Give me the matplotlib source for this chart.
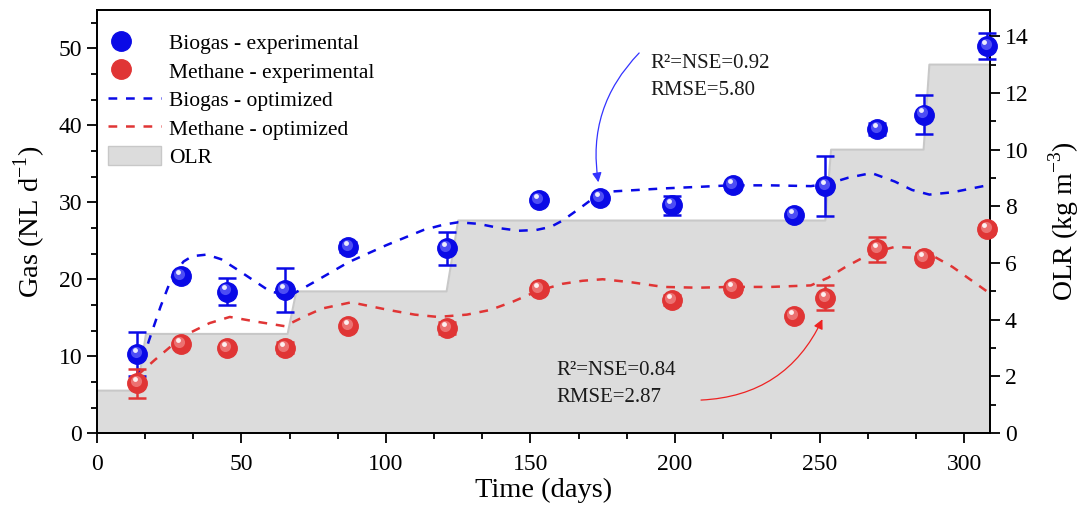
import numpy as np
import matplotlib
matplotlib.use("Agg")
import matplotlib.pyplot as plt
from matplotlib.lines import Line2D
from matplotlib.patches import Patch
from matplotlib.legend_handler import HandlerTuple
from matplotlib.transforms import offset_copy

plt.rcParams["font.family"] = ["Liberation Serif", "DejaVu Serif"]
plt.rcParams["mathtext.fontset"] = "custom"
plt.rcParams["mathtext.rm"] = "Liberation Serif"

# experimental data (days, NL/d)
bio_day = [14, 29, 45, 65, 87, 121, 153, 174, 199, 220, 241, 252, 270, 286, 308]
bio_val = [10.3, 20.4, 18.4, 18.6, 24.2, 24.0, 30.3, 30.5, 29.6, 32.2, 28.3, 32.1, 39.5, 41.4, 50.3]
bio_err = [2.9, 0.5, 1.7, 2.8, 0.6, 2.2, 0.4, 0.5, 1.2, 0.5, 0.3, 3.9, 0.8, 2.5, 1.7]

met_day = [14, 29, 45, 65, 87, 121, 153, 199, 220, 241, 252, 270, 286, 308]
met_val = [6.5, 11.6, 11.1, 11.1, 13.9, 13.7, 18.7, 17.3, 18.9, 15.2, 17.6, 23.9, 22.8, 26.5]
met_err = [1.9, 0.4, 0.4, 0.7, 0.4, 0.8, 0.4, 0.6, 0.5, 0.3, 1.6, 1.6, 0.6, 0.5]

# optimized model curves
bio_opt_day = [14, 18, 22, 26, 30, 33, 38, 43, 48, 54, 60, 67, 75, 87, 100, 113, 120, 125, 132, 140, 146, 152,
               157, 161, 167, 172, 178, 187, 196, 208, 219, 233, 247, 253, 260, 268, 276, 282, 288, 296, 308]
bio_opt_val = [7.3, 12.0, 16.4, 20.3, 22.3, 23.0, 23.2, 22.6, 21.4, 19.9, 18.4, 17.9, 19.6, 22.2, 24.4, 26.4, 27.1, 27.4,
               27.2, 26.6, 26.3, 26.4, 26.8, 27.6, 29.2, 30.6, 31.4, 31.6, 31.8, 32.0, 32.2, 32.2, 32.1, 32.4, 33.2, 33.8,
               32.7, 31.6, 31.0, 31.3, 32.2]

met_opt_day = [14, 20, 26, 32, 39, 46, 55, 65, 72, 78, 88, 101, 110, 118, 128, 136, 144, 152, 161, 168, 175,
               185, 196, 208, 219, 233, 247, 253, 259, 264, 269, 276, 282, 288, 296, 302, 308]
met_opt_val = [7.5, 9.5, 11.4, 13.0, 14.3, 15.1, 14.5, 13.9, 15.2, 16.2, 17.0, 16.0, 15.4, 15.1, 15.4, 16.0, 17.1,
               18.4, 19.4, 19.8, 20.0, 19.6, 19.0, 18.9, 19.0, 19.0, 19.2, 20.2, 21.6, 22.6, 23.5, 24.2, 24.1, 23.3,
               21.6, 20.0, 18.4]

# organic loading rate (kg m-3)
olr_day = [0, 14, 17, 66, 69, 121, 125, 252, 254, 286, 288, 309]
olr_val = [1.5, 1.5, 3.5, 3.5, 5.0, 5.0, 7.5, 7.5, 10.0, 10.0, 13.0, 13.0]

blue = "#0a0ae6"
red = "#e03535"

fig = plt.figure(figsize=(10.88, 5.2), dpi=100)
ax = fig.add_axes([0.089, 0.167, 0.821, 0.814])
ax2 = ax.twinx()
ax.set_zorder(ax2.get_zorder() + 1)
ax.patch.set_visible(False)

ax2.fill_between(olr_day, olr_val, 0, color="#dcdcdc", lw=0)
ax2.plot(olr_day, olr_val, color="#c8c8c8", lw=1.5)

ax.plot(bio_opt_day, bio_opt_val, color=blue, lw=1.8, dashes=(3.5, 3.5), zorder=2)
ax.plot(met_opt_day, met_opt_val, color=red, lw=1.8, dashes=(3.5, 3.5), zorder=2)

ax.errorbar(bio_day, bio_val, yerr=bio_err, fmt="none", ecolor=blue, elinewidth=1.8, capsize=6.5, capthick=1.8,
            zorder=3, clip_on=False)
ax.errorbar(met_day, met_val, yerr=met_err, fmt="none", ecolor=red, elinewidth=1.8, capsize=6.5, capthick=1.8,
            zorder=3, clip_on=False)


def balls(x, y, base, mid):
    ax.plot(x, y, "o", ms=14, color=base, mec=base, zorder=4, clip_on=False)
    t1 = offset_copy(ax.transData, fig=fig, x=-1.2, y=1.5, units="points")
    ax.plot(x, y, "o", ms=8, color=mid, mec="none", alpha=0.6, transform=t1, zorder=5, clip_on=False)
    t2 = offset_copy(ax.transData, fig=fig, x=-2.0, y=3.0, units="points")
    ax.plot(x, y, "o", ms=3.5, color="white", mec="none", alpha=0.9, transform=t2, zorder=6, clip_on=False)


balls(bio_day, bio_val, blue, "#7a7aff")
balls(met_day, met_val, red, "#f59a9a")

ax.set_xlim(0, 309)
ax.set_ylim(0, 55)
ax2.set_ylim(0, 14.93)
ax.set_xticks(np.arange(0, 301, 50))
ax.set_xticks(np.arange(0, 309, 50 / 3), minor=True)
ax.set_yticks(np.arange(0, 51, 10))
ax.set_yticks(np.arange(0, 55, 10 / 3), minor=True)
ax2.set_yticks(np.arange(0, 15, 2))
ax2.set_yticks(np.arange(0, 15, 1), minor=True)

for a in (ax, ax2):
    a.tick_params(which="major", direction="out", length=7, width=1.3, labelsize=17)
    a.tick_params(which="minor", direction="out", length=4, width=1.3)
    for s in a.spines.values():
        s.set_linewidth(1.3)
ax.tick_params(axis="x", pad=8)

ax.set_xlabel("Time (days)", fontsize=20.5, labelpad=2)
ax.set_ylabel("Gas (NL d$^{-1}$)", fontsize=20.5, labelpad=8)
ax2.set_ylabel("OLR (kg m$^{-3}$)", fontsize=20, labelpad=13)

ax.text(191.6, 48.0, "R²=NSE=0.92", fontsize=15, va="center", ha="left", color="#1a1a1a")
ax.text(191.6, 44.5, "RMSE=5.80", fontsize=15, va="center", ha="left", color="#1a1a1a")
ax.annotate("", xy=(173.5, 32.6), xytext=(187.6, 49.4),
            arrowprops=dict(arrowstyle="-|>", color="#3333ff", lw=0.9, mutation_scale=14,
                            connectionstyle="arc3,rad=0.25", shrinkA=0, shrinkB=0))
ax.text(159, 8.2, "R²=NSE=0.84", fontsize=15, va="center", ha="left", color="#1a1a1a")
ax.text(159, 4.6, "RMSE=2.87", fontsize=15, va="center", ha="left", color="#1a1a1a")
ax.annotate("", xy=(251, 14.8), xytext=(209, 4.3),
            arrowprops=dict(arrowstyle="-|>", color="#ee2222", lw=0.9, mutation_scale=14,
                            connectionstyle="arc3,rad=0.3", shrinkA=0, shrinkB=0))

h_bio = (Line2D([], [], ls="none", marker="o", ms=14, color=blue),
         Line2D([], [], ls="none", marker="o", ms=4, color="white", alpha=0.8))
h_met = (Line2D([], [], ls="none", marker="o", ms=14, color=red),
         Line2D([], [], ls="none", marker="o", ms=4, color="white", alpha=0.8))
h_bopt = Line2D([], [], color=blue, lw=1.8, dashes=(3.5, 3.5))
h_mopt = Line2D([], [], color=red, lw=1.8, dashes=(3.5, 3.5))
h_olr = Patch(facecolor="#dcdcdc", edgecolor="#c8c8c8")
ax.legend([h_bio, h_met, h_bopt, h_mopt, h_olr],
          ["Biogas - experimental", "Methane - experimental", "Biogas - optimized", "Methane - optimized", "OLR"],
          handler_map={tuple: HandlerTuple(ndivide=None)}, loc="upper left", bbox_to_anchor=(0.012, 0.947),
          frameon=False, fontsize=15.5, borderpad=0, borderaxespad=0, labelspacing=0.3, handlelength=2.5,
          handletextpad=0.35, handleheight=1.0)

fig.savefig("out.png", dpi=100)
